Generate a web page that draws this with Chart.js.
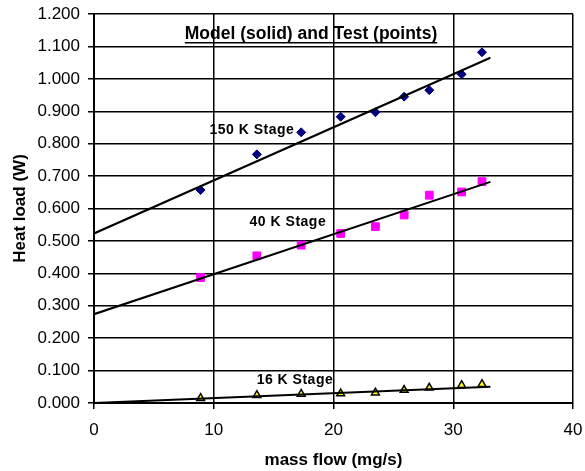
<!DOCTYPE html>
<html>
<head>
<meta charset="utf-8">
<script src="https://cdn.jsdelivr.net/npm/chart.js@4"></script>
<style>
  body { margin: 0; background: #fff; }
  #wrap { width: 585px; height: 471px; }
</style>
</head>
<body>
<div id="wrap"><canvas id="myChart"></canvas></div>
<script>
// mass flow (mg/s) of the test points
const massFlow = [8.9, 13.6, 17.3, 20.6, 23.5, 25.9, 28.0, 30.7, 32.4];
// measured heat loads (W)
const test150K = [0.657, 0.767, 0.835, 0.883, 0.897, 0.945, 0.965, 1.014, 1.082];
const test40K = [0.387, 0.454, 0.487, 0.523, 0.544, 0.580, 0.641, 0.651, 0.683];
const test16K = [0.015, 0.024, 0.028, 0.029, 0.032, 0.040, 0.047, 0.055, 0.058];
// model lines (end points)
const modelFlow = [0, 33.1];
const model150K = [0.523, 1.065];
const model40K = [0.274, 0.682];
const model16K = [0.000, 0.050];

const labels = [
    { text: '150 K Stage', x: 13.19, y: 0.842 },
    { text: '40 K Stage', x: 16.19, y: 0.558 },
    { text: '16 K Stage', x: 16.78, y: 0.071 }
];

const fontFam = '"Liberation Sans", Arial, sans-serif';

function pts(xs, ys) {
    return xs.map((x, i) => ({ x: x, y: ys[i] }));
}

const textPlugin = {
    id: 'texts',
    afterDatasetsDraw(chart) {
        const ctx = chart.ctx;
        const xs = chart.scales.x, ys = chart.scales.y;
        ctx.save();
        ctx.fillStyle = '#000';
        ctx.font = 'bold 14px ' + fontFam;
        ctx.letterSpacing = '0.5px';
        ctx.textBaseline = 'middle';
        ctx.textAlign = 'center';
        labels.forEach(l => {
            ctx.fillText(l.text, xs.getPixelForValue(l.x), ys.getPixelForValue(l.y));
        });
        // title with underline
        const t = 'Model (solid) and Test (points)';
        ctx.font = 'bold 17.5px ' + fontFam;
        ctx.letterSpacing = '0px';
        const tx = 311, ty = 34;
        ctx.fillText(t, tx, ty);
        const w = ctx.measureText(t).width;
        ctx.fillRect(tx - w / 2, ty + 8, w, 1.5);
        ctx.restore();
    }
};

const config = {
    type: 'scatter',
    data: {
        datasets: [
            { data: pts(modelFlow, model150K), showLine: true, borderColor: '#000', borderWidth: 2, pointRadius: 0 },
            { data: pts(modelFlow, model40K), showLine: true, borderColor: '#000', borderWidth: 2, pointRadius: 0 },
            { data: pts(modelFlow, model16K), showLine: true, borderColor: '#000', borderWidth: 2, pointRadius: 0 },
            { data: pts(massFlow, test150K), pointStyle: 'rectRot', pointRadius: 4.5, backgroundColor: '#000080', borderColor: '#000080', borderWidth: 1 },
            { data: pts(massFlow, test40K), pointStyle: 'rect', pointRadius: 5.5, backgroundColor: '#ff00ff', borderColor: '#ff00ff', borderWidth: 1 },
            { data: pts(massFlow, test16K), pointStyle: 'triangle', pointRadius: 4.5, backgroundColor: '#ffff00', borderColor: '#000', borderWidth: 1.5 }
        ]
    },
    options: {
        responsive: true,
        maintainAspectRatio: false,
        animation: false,
        layout: { padding: { top: 14, right: 12, left: 0, bottom: 0 } },
        plugins: {
            legend: { display: false },
            tooltip: { enabled: false }
        },
        scales: {
            x: {
                type: 'linear',
                min: 0, max: 40,
                ticks: { stepSize: 10, color: '#000', padding: 11,
                    font: { family: fontFam, size: 17 } },
                grid: { color: '#000', lineWidth: 1.5, tickLength: 6, tickColor: '#000' },
                border: { color: '#000', width: 2 },
                title: { display: true, text: 'mass flow (mg/s)', color: '#000', padding: { top: 10, bottom: 0 },
                    font: { family: fontFam, size: 17, weight: 'bold' } },
                afterFit(s) { s.height = 68; s.paddingLeft = 0; s.paddingRight = 0; }
            },
            y: {
                min: 0, max: 1.2,
                ticks: { stepSize: 0.1, color: '#000', padding: 8,
                    callback: v => v.toFixed(3),
                    font: { family: fontFam, size: 17 } },
                grid: { color: '#000', lineWidth: 1.5, tickLength: 6, tickColor: '#000' },
                border: { color: '#000', width: 2 },
                title: { display: true, text: 'Heat load (W)', color: '#000', padding: { top: 10, bottom: 0 },
                    font: { family: fontFam, size: 17, weight: 'bold' } },
                afterFit(s) { s.width = 94; s.paddingTop = 0; s.paddingBottom = 0; }
            }
        }
    },
    plugins: [textPlugin]
};

const myChart = new Chart(document.getElementById('myChart'), config);
</script>
</body>
</html>
